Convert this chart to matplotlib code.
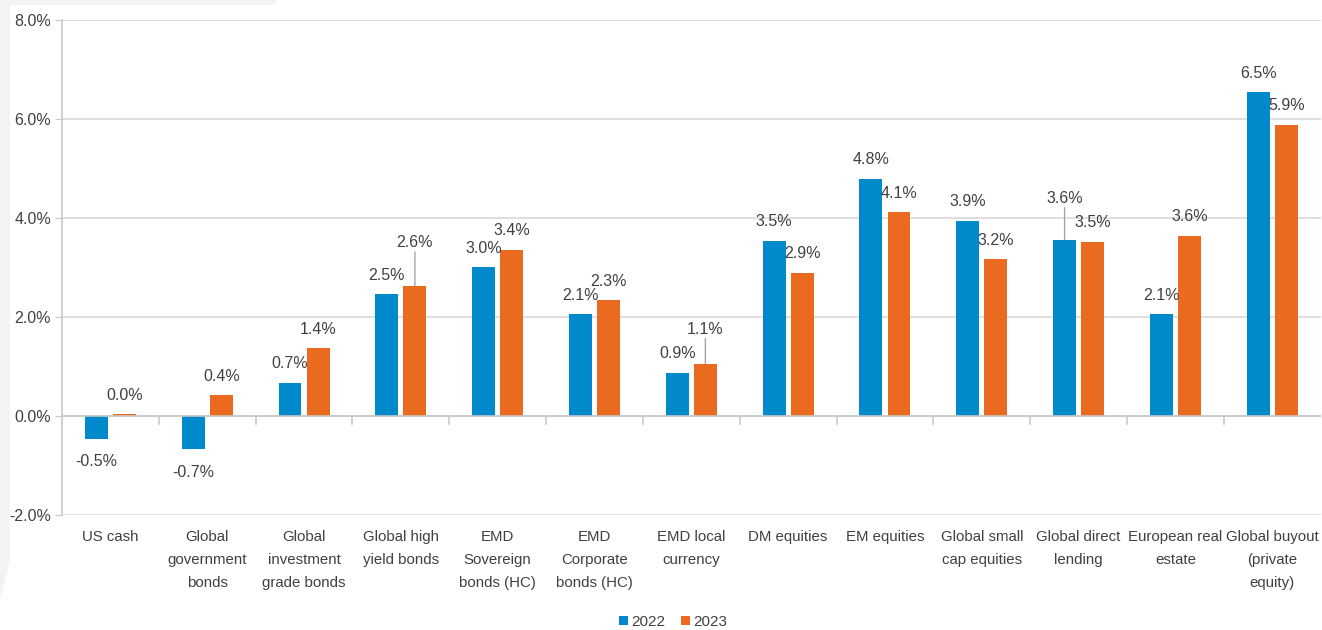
import matplotlib
matplotlib.use("Agg")
import matplotlib.pyplot as plt
from matplotlib.patches import Polygon
import numpy as np

categories = ["US cash", "Global\ngovernment\nbonds", "Global\ninvestment\ngrade bonds",
              "Global high\nyield bonds", "EMD\nSovereign\nbonds (HC)", "EMD\nCorporate\nbonds (HC)",
              "EMD local\ncurrency", "DM equities", "EM equities", "Global small\ncap equities",
              "Global direct\nlending", "European real\nestate", "Global buyout\n(private\nequity)"]
series_names = ["2022", "2023"]
values_2022 = [-0.46, -0.67, 0.67, 2.46, 3.01, 2.06, 0.87, 3.54, 4.79, 3.94, 3.56, 2.06, 6.54]
values_2023 = [0.04, 0.42, 1.37, 2.63, 3.36, 2.34, 1.06, 2.89, 4.12, 3.17, 3.52, 3.64, 5.88]
y_ticks = [-2, 0, 2, 4, 6, 8]

plt.rcParams['font.family'] = ['Liberation Sans', 'DejaVu Sans']
text_color = "#404040"
colors = ["#0089cb", "#ea6a1f"]

fig = plt.figure(figsize=(13.22, 6.30), dpi=100)
fig.patch.set_facecolor("white")
# page background artifacts
fig.patches.append(Polygon([[0, 1], [277/1322, 1], [272/1322, 1-5/630], [10/1322, 1-5/630],
                            [10/1322, 1-560/630], [0, 1-600/630]],
                           closed=True, transform=fig.transFigure, facecolor="#f3f3f1",
                           edgecolor="none", zorder=-10))

ax = fig.add_axes([62/1322, 1-515/630, 1-62/1322-0.001, (515-20)/630])
n = len(categories)
x = np.arange(n)
w = 0.237
off = 0.145
vals = [values_2022, values_2023]
for k, (v, c, name) in enumerate(zip(vals, colors, series_names)):
    xs = x + (-off if k == 0 else off)
    ax.bar(xs, v, width=w, color=c, label=name, zorder=3)

ax.set_xlim(-0.5, n - 0.5)
ax.set_ylim(-2, 8)
ax.set_yticks(y_ticks)
ax.set_yticklabels([f"{t:.1f}%" for t in y_ticks], fontsize=11.5, color=text_color)
ax.yaxis.grid(True, color="#d9d9d9", linewidth=1.2, zorder=0)
ax.set_axisbelow(True)
for s in ["top", "right", "bottom"]:
    ax.spines[s].set_visible(False)
ax.spines["left"].set_color("#c8c8c8")
ax.spines["left"].set_linewidth(1.2)
ax.tick_params(axis="y", length=5, color="#c8c8c8", pad=3)
ax.set_xticks([])
# zero axis line and category tick marks
ax.axhline(0, color="#c8c8c8", linewidth=1.2, zorder=4)
for b in np.arange(0.5, n - 0.5, 1.0):
    ax.plot([b, b], [0, -0.17], color="#c8c8c8", linewidth=1.2, zorder=4, clip_on=False)

# category labels
for i, lab in enumerate(categories):
    ax.text(i, -2.31, lab, ha="center", va="top", fontsize=10.8, color=text_color,
            linespacing=1.78)

# data labels (extra lift in points for crowded labels, with leader lines)
extra = {(1, 3): 24, (1, 6): 15, (0, 10): 22}
for k, v in enumerate(vals):
    for i, val in enumerate(v):
        xs = i + (-off if k == 0 else off)
        lab = f"{val:.1f}%"
        if val >= 0:
            lift = 19 + extra.get((k, i), 0)
            ax.annotate(lab, (xs, val), xytext=(0, lift * 0.72), textcoords="offset points",
                        ha="center", va="center", fontsize=11.5, color=text_color)
            if (k, i) in extra:
                ax.annotate("", (xs, val), xytext=(0, (lift - 9) * 0.72), textcoords="offset points",
                            arrowprops=dict(arrowstyle="-", color="#a6a6a6", lw=1,
                                            shrinkA=0, shrinkB=0))
        else:
            ax.annotate(lab, (xs, val), xytext=(0, -23 * 0.72), textcoords="offset points",
                        ha="center", va="center", fontsize=11.5, color=text_color)

fig.legend(loc="center", bbox_to_anchor=(673/1322, 1-622/630), ncol=2, frameon=False,
           fontsize=11, handlelength=0.6, handleheight=0.6, handletextpad=0.2,
           columnspacing=1.0, labelcolor=text_color)

fig.savefig("out.png", dpi=100, facecolor=fig.get_facecolor())
